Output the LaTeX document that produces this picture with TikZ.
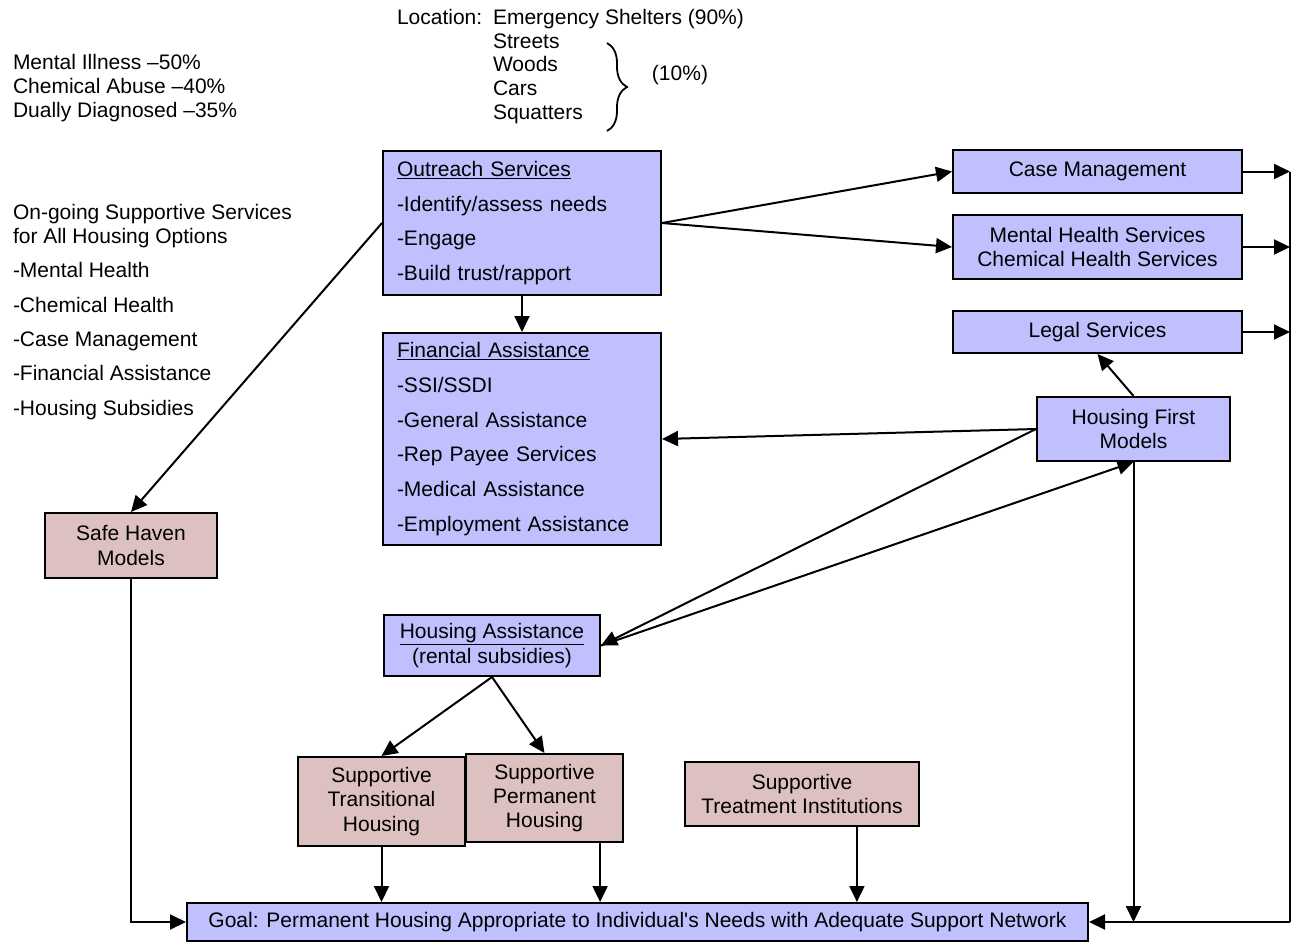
\documentclass[tikz,border=0pt]{standalone}
\usepackage{fontspec}
\setmainfont{Liberation Sans}
\usetikzlibrary{arrows.meta,positioning,decorations.pathreplacing}
\definecolor{boxblue}{RGB}{192,192,255}
\definecolor{boxpink}{RGB}{221,192,192}
\tikzset{
    every node/.style={font=\fontsize{21}{24.3}\selectfont},
    bluebox/.style={draw,line width=2pt,fill=boxblue,align=center},
    pinkbox/.style={draw,line width=2pt,fill=boxpink,align=center},
    listbox/.style={bluebox,align=left,text width=250pt,inner xsep=14pt},
    plain/.style={inner sep=0pt,align=left,anchor=north west}
}
\begin{document}
\begin{tikzpicture}[x=1pt,y=-1pt,>={Triangle[length=16pt,width=15pt]},line width=2pt]
    \useasboundingbox (0,0) rectangle (1291,943);

    \node[plain] (location) at (396,8) {Location:};
    \node[plain] (sites) at (492,8) {Emergency Shelters (90\%)\\[-0.5pt]Streets\\[-0.5pt]Woods\\[-0.5pt]Cars\\[-0.5pt]Squatters};
    \node (tenpct) at (680,75) {(10\%)};
    \node[plain] (stats) at (12,53) {Mental Illness --50\%\\Chemical Abuse --40\%\\Dually Diagnosed --35\%};
    \node[plain] (ongoing) at (12,203) {On-going Supportive Services\\for All Housing Options\\[10pt]-Mental Health\\[10pt]-Chemical Health\\[10pt]-Case Management\\[10pt]-Financial Assistance\\[10pt]-Housing Subsidies};

    \node[listbox,minimum height=144pt] (outreach) at (522,223) {\underline{Outreach Services}\\[10.5pt]-Identify/assess needs\\[10.5pt]-Engage\\[10.5pt]-Build trust/rapport};
    \node[listbox,minimum height=212pt] (finance) at (522,439) {\underline{Financial Assistance}\\[10.5pt]-SSI/SSDI\\[10.5pt]-General Assistance\\[10.5pt]-Rep Payee Services\\[10.5pt]-Medical Assistance\\[10.5pt]-Employment Assistance};
    \node[bluebox,minimum width=289pt,minimum height=43pt] (casemgmt) at (1097.5,171.5) {Case Management};
    \node[bluebox,minimum width=289pt,minimum height=64pt] (mentalhs) at (1097.5,247) {Mental Health Services\\Chemical Health Services};
    \node[bluebox,minimum width=289pt,minimum height=42pt] (legal) at (1097.5,332) {Legal Services};
    \node[bluebox,minimum width=193pt,minimum height=64pt] (hfirst) at (1133.5,429) {Housing First\\Models};
    \node[pinkbox,minimum width=172pt,minimum height=65pt] (safehaven) at (131,545.5) {Safe Haven\\Models};
    \node[bluebox,minimum width=216pt,minimum height=61pt] (hassist) at (492,645.5) {\underline{Housing Assistance}\\(rental subsidies)};
    \node[pinkbox,minimum width=167pt,minimum height=89pt] (transit) at (381.5,801.5) {Supportive\\Transitional\\Housing};
    \node[pinkbox,minimum width=157pt,minimum height=88pt] (perm) at (544.5,798) {Supportive\\Permanent\\Housing};
    \node[pinkbox,minimum width=234pt,minimum height=64pt] (treat) at (802,794) {Supportive\\Treatment Institutions};
    \node[bluebox,minimum width=901pt,minimum height=38pt] (goal) at (637.5,922) {Goal: Permanent Housing Appropriate to Individual\textquotesingle s Needs with Adequate Support Network};
    \coordinate (bus) at (1290,922);

    \draw[decorate,decoration={brace,amplitude=20pt},line width=1.8pt] (607,43) -- (607,131);

    \draw[->] (outreach.east) -- (casemgmt.west);
    \draw[->] (outreach.east) -- (mentalhs.west);
    \draw[->] (outreach.west) -- (safehaven.north);
    \draw[->] (outreach.south) -- (finance.north);
    \draw[->] (hfirst.west) -- (finance.east);
    \draw[->] (hfirst.north) -- (legal.south);
    \draw[->] (hfirst.west) -- (hassist.east);
    \draw[->] (hassist.east) -- (hfirst.south);
    \draw[->] (hassist.south) -- (transit.north);
    \draw[->] (hassist.south) -- (perm.north);
    \draw[->] (casemgmt.east) -- (casemgmt.east -| bus);
    \draw[->] (mentalhs.east) -- (mentalhs.east -| bus);
    \draw[->] (legal.east) -- (legal.east -| bus);
    \draw (casemgmt.east -| bus) -- (bus);
    \draw[->] (bus) -- (goal.east);
    \draw[->] (hfirst.south) -- (hfirst.south |- goal.east);
    \draw[->] (safehaven.south) |- (goal.west);
    \draw[->] (transit.south) -- (transit.south |- goal.north);
    \draw[->] (perm.-39.4) -- (perm.-39.4 |- goal.north);
    \draw[->] (treat.-31.1) -- (treat.-31.1 |- goal.north);
\end{tikzpicture}
\end{document}
